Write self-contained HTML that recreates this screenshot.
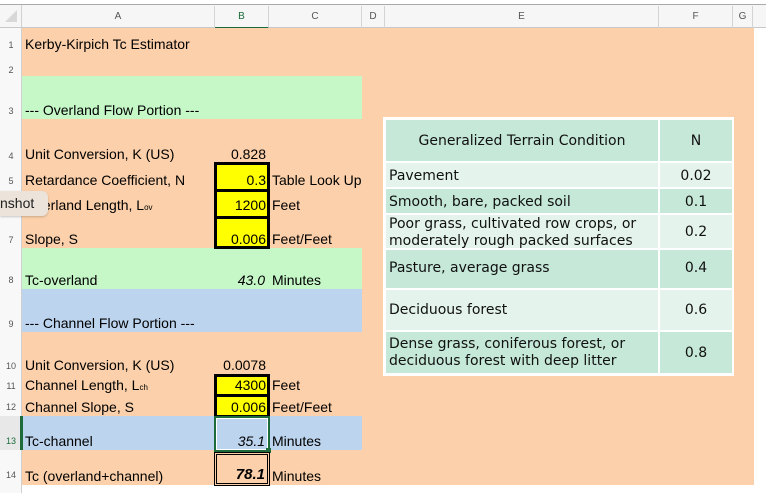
<!DOCTYPE html>
<html><head><meta charset="utf-8"><style>
body{margin:0;width:766px;height:493px;background:#fff;position:relative;overflow:hidden;font-family:"Liberation Sans",Arial,sans-serif;}
div{position:absolute;box-sizing:border-box;}
.t{font-size:14px;color:#000;white-space:nowrap;line-height:16px;}
.rn{font-size:9px;color:#555;width:22px;text-align:center;line-height:10px;}
.ch{font-size:10px;color:#555;top:6px;height:22px;line-height:22px;text-align:center;border-right:1px solid #d4d4d4;}
.r{text-align:right;}
.tb{font-family:"DejaVu Sans",Verdana,sans-serif;font-size:14px;color:#111;line-height:16px;white-space:nowrap;}
</style></head><body>
<div style="left:0;top:4px;width:766px;height:1px;background:#aaa"></div>
<div style="left:0;top:5px;width:766px;height:23px;background:#f6f6f6;border-bottom:1px solid #c8c8c8"></div>
<div style="left:0;top:5px;width:22px;height:23px;border-right:1px solid #d0d0d0"></div>
<div style="left:5px;top:10px;width:0;height:0;border-left:12px solid transparent;border-bottom:12px solid #d8d8d8"></div>
<div class="ch" style="left:22px;width:193px">A</div>
<div class="ch" style="left:215px;width:54px;color:#1d6b3a;border-bottom:2px solid #1d6b3a;height:23px">B</div>
<div class="ch" style="left:269px;width:93px">C</div>
<div class="ch" style="left:362px;width:23px">D</div>
<div class="ch" style="left:385px;width:274px">E</div>
<div class="ch" style="left:659px;width:74px">F</div>
<div class="ch" style="left:733px;width:20px">G</div>
<div style="left:0;top:28px;width:22px;height:465px;background:#f8f8f8;border-right:1px solid #d0d0d0"></div>
<div style="left:22px;top:28px;width:732px;height:457px;background:#fbd0aa"></div>
<div style="left:22px;top:76px;width:340px;height:43px;background:#c5f7c7"></div>
<div style="left:22px;top:248px;width:340px;height:41px;background:#c5f7c7"></div>
<div style="left:22px;top:289px;width:340px;height:43px;background:#bdd4ee"></div>
<div style="left:22px;top:416px;width:340px;height:34px;background:#bdd4ee"></div>
<div style="left:20px;top:416px;width:3px;height:34px;background:#1d6b3a"></div>
<div style="left:0;top:416px;width:20px;height:34px;background:#e8e8e8"></div>
<div class="rn" style="top:40px">1</div><div class="rn" style="top:65px">2</div>
<div class="rn" style="top:106px">3</div><div class="rn" style="top:151px">4</div>
<div class="rn" style="top:176px">5</div><div class="rn" style="top:235px">7</div>
<div class="rn" style="top:275px">8</div><div class="rn" style="top:319px">9</div>
<div class="rn" style="top:361px">10</div><div class="rn" style="top:381px">11</div>
<div class="rn" style="top:402px">12</div><div class="rn" style="top:436px;color:#1d6b3a">13</div>
<div class="rn" style="top:470px">14</div>
<div class="t" style="left:25px;top:36px">Kerby-Kirpich Tc Estimator</div>
<div class="t" style="left:25px;top:102px">--- Overland Flow Portion ---</div>
<div class="t" style="left:25px;top:146px">Unit Conversion, K (US)</div>
<div class="t r" style="left:200px;top:146px;width:66px">0.828</div>
<div class="t" style="left:25px;top:172px">Retardance Coefficient, N</div>
<div class="t" style="left:25px;top:197px">Overland Length, L<span style="font-size:8px">ov</span></div>
<div class="t" style="left:25px;top:231px">Slope, S</div>
<div style="left:214px;top:162px;width:56px;height:87px;background:#ffff00;border:3px solid #000"></div>
<div style="left:214px;top:189px;width:56px;height:3px;background:#000"></div>
<div style="left:214px;top:216px;width:56px;height:3px;background:#000"></div>
<div class="t r" style="left:200px;top:172px;width:66px">0.3</div>
<div class="t r" style="left:200px;top:197px;width:66px">1200</div>
<div class="t r" style="left:200px;top:231px;width:66px">0.006</div>
<div class="t" style="left:272px;top:172px">Table Look Up</div>
<div class="t" style="left:272px;top:197px">Feet</div>
<div class="t" style="left:272px;top:231px">Feet/Feet</div>
<div class="t" style="left:25px;top:272px">Tc-overland</div>
<div class="t r" style="left:200px;top:272px;width:65px;font-style:italic">43.0</div>
<div class="t" style="left:272px;top:272px">Minutes</div>
<div class="t" style="left:25px;top:315px">--- Channel Flow Portion ---</div>
<div class="t" style="left:25px;top:357px">Unit Conversion, K (US)</div>
<div class="t r" style="left:200px;top:357px;width:66px">0.0078</div>
<div style="left:214px;top:374px;width:56px;height:44px;background:#ffff00;border:3px solid #000"></div>
<div style="left:214px;top:394px;width:56px;height:3px;background:#000"></div>
<div class="t" style="left:25px;top:377px">Channel Length, L<span style="font-size:8px">ch</span></div>
<div class="t r" style="left:200px;top:377px;width:66px">4300</div>
<div class="t" style="left:272px;top:377px">Feet</div>
<div class="t" style="left:25px;top:399px">Channel Slope, S</div>
<div class="t r" style="left:200px;top:399px;width:66px">0.006</div>
<div class="t" style="left:272px;top:399px">Feet/Feet</div>
<div style="left:214px;top:416px;width:56px;height:36px;border:2px solid #1d6b3a"></div>
<div style="left:216px;top:418px;width:52px;height:32px;border:1px solid #fff"></div>
<div style="left:266px;top:448px;width:5px;height:5px;background:#1d6b3a"></div>
<div class="t" style="left:25px;top:433px">Tc-channel</div>
<div class="t r" style="left:200px;top:433px;width:65px;font-style:italic">35.1</div>
<div class="t" style="left:272px;top:433px">Minutes</div>
<div style="left:214px;top:452px;width:56px;height:34px;border:3px double #000"></div>
<div class="t" style="left:25px;top:468px">Tc (overland+channel)</div>
<div class="t r" style="left:200px;top:467px;width:65px;font-style:italic;font-weight:bold;font-size:15px">78.1</div>
<div class="t" style="left:272px;top:468px">Minutes</div>
<div style="left:0;top:191px;width:48px;height:25px;background:#ece3da;border-radius:0 6px 6px 0;box-shadow:0 1px 2px rgba(0,0,0,.2)"></div>
<div class="t" style="left:0;top:195px;color:#222">nshot</div>
<div style="left:383px;top:117px;width:351px;height:259px;background:#fff"></div>
<div style="left:386px;top:120px;width:272px;height:41px;background:#c5e8d8"></div>
<div style="left:660px;top:120px;width:72px;height:41px;background:#c5e8d8"></div>
<div class="tb" style="left:386px;top:133px;width:272px;text-align:center">Generalized Terrain Condition</div>
<div class="tb" style="left:660px;top:133px;width:72px;text-align:center">N</div>
<div style="left:386px;top:163px;width:272px;height:24px;background:#e4f4ec"></div><div style="left:660px;top:163px;width:72px;height:24px;background:#e4f4ec"></div>
<div style="left:386px;top:189px;width:272px;height:24px;background:#c5e8d8"></div><div style="left:660px;top:189px;width:72px;height:24px;background:#c5e8d8"></div>
<div style="left:386px;top:215px;width:272px;height:33px;background:#e4f4ec;overflow:hidden"><div class="tb" style="left:3px;top:1px;line-height:17px">Poor grass, cultivated row crops, or<br>moderately rough packed surfaces</div></div>
<div style="left:660px;top:215px;width:72px;height:33px;background:#e4f4ec"></div>
<div style="left:386px;top:250px;width:272px;height:38px;background:#c5e8d8"></div><div style="left:660px;top:250px;width:72px;height:38px;background:#c5e8d8"></div>
<div style="left:386px;top:290px;width:272px;height:40px;background:#e4f4ec"></div><div style="left:660px;top:290px;width:72px;height:40px;background:#e4f4ec"></div>
<div style="left:386px;top:332px;width:272px;height:41px;background:#c5e8d8"></div><div style="left:660px;top:332px;width:72px;height:41px;background:#c5e8d8"></div>
<div class="tb" style="left:389px;top:168px">Pavement</div><div class="tb" style="left:660px;top:168px;width:72px;text-align:center">0.02</div>
<div class="tb" style="left:389px;top:194px">Smooth, bare, packed soil</div><div class="tb" style="left:660px;top:194px;width:72px;text-align:center">0.1</div>
<div class="tb" style="left:660px;top:224px;width:72px;text-align:center">0.2</div>
<div class="tb" style="left:389px;top:260px">Pasture, average grass</div><div class="tb" style="left:660px;top:260px;width:72px;text-align:center">0.4</div>
<div class="tb" style="left:389px;top:302px">Deciduous forest</div><div class="tb" style="left:660px;top:302px;width:72px;text-align:center">0.6</div>
<div class="tb" style="left:389px;top:336px;line-height:17px">Dense grass, coniferous forest, or<br>deciduous forest with deep litter</div><div class="tb" style="left:660px;top:345px;width:72px;text-align:center">0.8</div>
</body></html>
